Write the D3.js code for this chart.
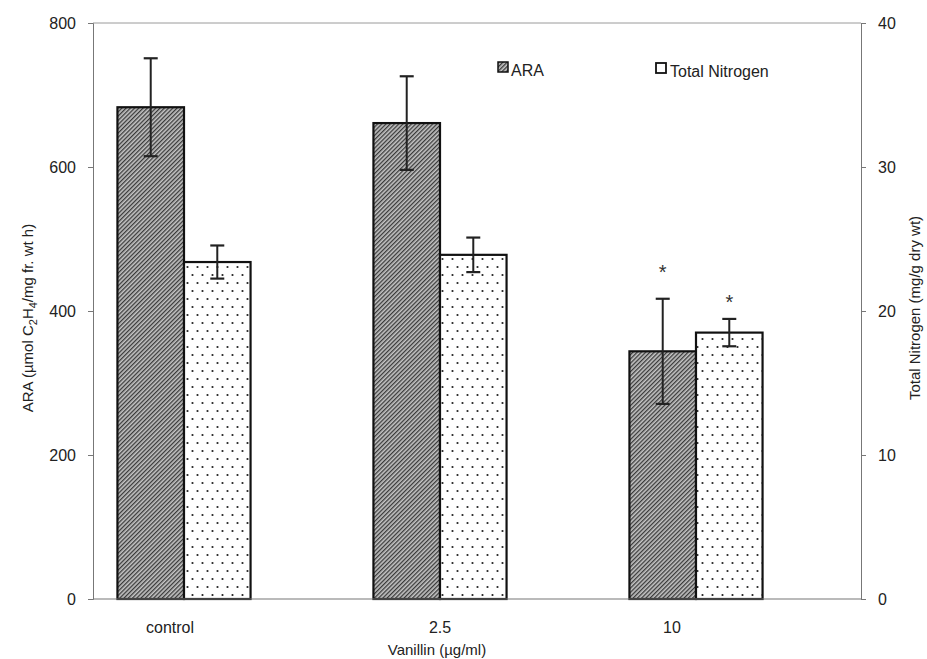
<!DOCTYPE html>
<html><head><meta charset="utf-8">
<script src="https://cdn.jsdelivr.net/npm/d3@7"></script>
<style>body{margin:0;background:#fff}svg{display:block;font-family:"Liberation Sans",Arial,sans-serif}</style>
</head><body>
<svg id="c" width="927" height="659"></svg>
<script>
const categories = ["control", "2.5", "10"];
const araValues = [683, 661, 344];
const araErrors = [68, 65, 73];
const tnValues = [23.4, 23.9, 18.5];
const tnErrors = [1.15, 1.2, 0.95];
const significant = [false, false, true];
const leftTicks = [0, 200, 400, 600, 800];
const rightTicks = [0, 10, 20, 30, 40];
const seriesNames = ["ARA", "Total Nitrogen"];

const svg = d3.select("#c");
const L = 93, R = 861, T = 23, B = 599;

const defs = svg.append("defs");
const hatch = defs.append("pattern").attr("id","hatch").attr("patternUnits","userSpaceOnUse")
  .attr("width",3).attr("height",3).attr("patternTransform","rotate(45)");
hatch.append("rect").attr("width",3).attr("height",3).attr("fill","#c4c4c4");
hatch.append("rect").attr("width",1.3).attr("height",3).attr("fill","#3a3a3a");
const dots = defs.append("pattern").attr("id","dots").attr("patternUnits","userSpaceOnUse")
  .attr("width",10).attr("height",16);
dots.append("rect").attr("width",10).attr("height",16).attr("fill","#fff");
dots.append("circle").attr("cx",2.5).attr("cy",3).attr("r",1.1).attr("fill","#222");
dots.append("circle").attr("cx",7.5).attr("cy",11).attr("r",1.1).attr("fill","#222");

const x0 = d3.scaleBand().domain(categories).range([56, 824]).paddingInner(0.48).paddingOuter(0.24);
const x1 = d3.scaleBand().domain(seriesNames).range([0, x0.bandwidth()]);
const yL = d3.scaleLinear().domain([0, 800]).range([B, T]);
const yR = d3.scaleLinear().domain([0, 40]).range([B, T]);

// frame top line
svg.append("line").attr("x1",L).attr("x2",R).attr("y1",T).attr("y2",T).attr("stroke","#9a9a9a").attr("stroke-width",1);

// axes
const axL = svg.append("g").attr("transform",`translate(${L},0)`)
  .call(d3.axisLeft(yL).tickValues(leftTicks).tickSize(5).tickPadding(12));
const axR = svg.append("g").attr("transform",`translate(${R},0)`)
  .call(d3.axisRight(yR).tickValues(rightTicks).tickSize(5).tickPadding(12));
[axL, axR].forEach(a => {
  a.select(".domain").attr("stroke","#777");
  a.selectAll(".tick line").attr("stroke","#777");
  a.selectAll(".tick text").attr("font-size",16).attr("fill","#222").attr("font-family","Liberation Sans, Arial, sans-serif");
});

// bars
const rows = categories.map((c,i)=>({c, ara:araValues[i], araE:araErrors[i], tn:tnValues[i], tnE:tnErrors[i], sig:significant[i]}));
const g = svg.append("g");
rows.forEach(d=>{
  const xa = x0(d.c) + x1("ARA"), xt = x0(d.c) + x1("Total Nitrogen"), w = x1.bandwidth();
  g.append("rect").attr("x",xa).attr("y",yL(d.ara)).attr("width",w).attr("height",B-yL(d.ara))
    .attr("fill","url(#hatch)").attr("stroke","#111").attr("stroke-width",2.2);
  g.append("rect").attr("x",xt).attr("y",yR(d.tn)).attr("width",w).attr("height",B-yR(d.tn))
    .attr("fill","url(#dots)").attr("stroke","#111").attr("stroke-width",2.2);
  const err = (cx, top, bot) => {
    g.append("line").attr("x1",cx).attr("x2",cx).attr("y1",top).attr("y2",bot).attr("stroke","#222").attr("stroke-width",2);
    [top,bot].forEach(yy=>g.append("line").attr("x1",cx-7).attr("x2",cx+7).attr("y1",yy).attr("y2",yy).attr("stroke","#222").attr("stroke-width",2.2));
  };
  err(xa + w/2, yL(d.ara + d.araE), yL(d.ara - d.araE));
  err(xt + w/2, yR(d.tn + d.tnE), yR(d.tn - d.tnE));
  if (d.sig) {
    g.append("text").attr("x",xa+w/2).attr("y",yL(d.ara + d.araE)-20).attr("text-anchor","middle")
      .attr("font-size",20).attr("fill","#333").text("*");
    g.append("text").attr("x",xt+w/2).attr("y",yR(d.tn + d.tnE)-10).attr("text-anchor","middle")
      .attr("font-size",20).attr("fill","#333").text("*");
  }
});

// bottom axis line
svg.append("line").attr("x1",L).attr("x2",R).attr("y1",B).attr("y2",B).attr("stroke","#777").attr("stroke-width",1.2);

// category labels
svg.append("g").selectAll("text").data(categories).join("text")
  .attr("x",d=>x0(d)+x0.bandwidth()/2 - (d==="control"?14:(d==="10"?24:0)))
  .attr("y",633).attr("text-anchor","middle").attr("font-size",16).attr("fill","#222").text(d=>d);

// axis titles
svg.append("text").attr("x",437).attr("y",655).attr("text-anchor","middle").attr("font-size",15).attr("fill","#222").text("Vanillin (µg/ml)");
const lt = svg.append("text").attr("transform","translate(33,318) rotate(-90)").attr("text-anchor","middle")
  .attr("font-size",15).attr("fill","#222");
lt.append("tspan").text("ARA (µmol C");
lt.append("tspan").attr("font-size",11).attr("dy",4).text("2");
lt.append("tspan").attr("dy",-4).text("H");
lt.append("tspan").attr("font-size",11).attr("dy",4).text("4");
lt.append("tspan").attr("dy",-4).text("/mg fr. wt h)");
svg.append("text").attr("transform","translate(920,308) rotate(-90)").attr("text-anchor","middle")
  .attr("font-size",15).attr("fill","#222").text("Total Nitrogen (mg/g dry wt)");

// legend
const leg = svg.append("g");
leg.append("rect").attr("x",498).attr("y",62).attr("width",10).attr("height",10).attr("fill","url(#hatch)").attr("stroke","#111").attr("stroke-width",1.5);
leg.append("text").attr("x",511).attr("y",76).attr("font-size",16).attr("fill","#222").text(seriesNames[0]);
leg.append("rect").attr("x",656).attr("y",63).attr("width",10).attr("height",10).attr("fill","#fff").attr("stroke","#111").attr("stroke-width",1.8);
leg.append("text").attr("x",670).attr("y",77).attr("font-size",16).attr("fill","#222").text(seriesNames[1]);
</script>
</body></html>
